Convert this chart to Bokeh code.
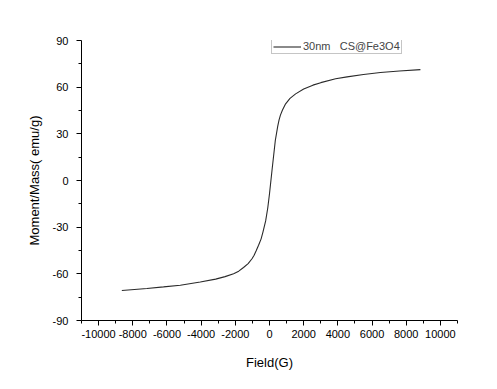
from bokeh.plotting import figure
from bokeh.models import Range1d, FixedTicker, Legend, LegendItem
from bokeh.embed import file_html
from bokeh.resources import INLINE

# Magnetization curve
field = [-8640, -7170, -6200, -5220, -4050, -3150, -2600, -2100, -1800, -1520,
         -1250, -1025, -900, -780, -640, -490, -380, -225, -100, 0, 146, 340,
         480, 560, 640, 760, 943, 1200, 1528, 2000, 2540, 3000, 3870, 4540, 5500,
         6490, 7600, 8830]
moment = [-70.7, -69.4, -68.4, -67.3, -65.3, -63.4, -61.8, -59.9, -58.3, -55.9,
          -53.4, -50.3, -48.0, -45.2, -41.6, -37.5, -33.0, -26.0, -17.5, -8.5, 6.4, 25.7,
          34.8, 39.0, 42.0, 45.3, 49.3, 52.8, 55.7, 58.8, 61.3, 62.9, 65.4, 66.6, 68.1,
          69.4, 70.4, 71.3]

x_ticks = [-10000, -8000, -6000, -4000, -2000, 0, 2000, 4000, 6000, 8000, 10000]
x_minor = [-11000, -9000, -7000, -5000, -3000, -1000, 1000, 3000, 5000, 7000, 9000, 11000]
y_ticks = [-90, -60, -30, 0, 30, 60, 90]
y_minor = [-75, -45, -15, 15, 45, 75]
series_label = "30nm\u00a0\u00a0\u00a0CS@Fe3O4"

FONT = "Liberation Sans"

p = figure(width=490, height=380, output_backend="svg", toolbar_location=None,
           x_range=Range1d(-11000, 11000), y_range=Range1d(-90, 90),
           min_border_left=81, min_border_right=33, min_border_top=40, min_border_bottom=60)
p.outline_line_color = None
p.xgrid.visible = False
p.ygrid.visible = False
p.background_fill_color = "white"
p.border_fill_color = "white"

r = p.line(field, moment, line_color="#2a2a2a", line_width=1.1)

for ax, ticks, minor in ((p.xaxis[0], x_ticks, x_minor), (p.yaxis[0], y_ticks, y_minor)):
    ax.ticker = FixedTicker(ticks=ticks, minor_ticks=minor)
    ax.major_label_overrides = {t: str(t) for t in ticks}
    ax.major_tick_in = 0
    ax.major_tick_out = 5
    ax.minor_tick_in = 0
    ax.minor_tick_out = 3
    ax.axis_line_color = "black"
    ax.major_tick_line_color = "black"
    ax.minor_tick_line_color = "black"
    ax.major_label_text_font = FONT
    ax.major_label_text_font_size = "11px"
    ax.major_label_text_color = "black"
    ax.axis_label_text_font = FONT
    ax.axis_label_text_font_size = "13px"
    ax.axis_label_text_font_style = "normal"
    ax.axis_label_text_color = "black"

p.xaxis.major_label_standoff = 4
p.yaxis.major_label_standoff = 8
p.xaxis.axis_label = "Field(G)"
p.yaxis.axis_label = "Moment/Mass( emu/g)"
p.xaxis.axis_label_standoff = 14
p.yaxis.axis_label_standoff = 8

legend = Legend(items=[LegendItem(label=series_label, renderers=[r])],
                location=(190, 266), orientation="vertical")
legend.label_text_font = FONT
legend.label_text_font_size = "11px"
legend.label_height = 9
legend.glyph_height = 9
legend.glyph_width = 28
legend.label_standoff = 2
legend.padding = 1
legend.margin = 0
legend.spacing = 0
legend.border_line_color = "#8c8c8c"
legend.border_line_width = 1
legend.background_fill_alpha = 1
p.add_layout(legend, "center")

open("out.html", "w").write(file_html(p, INLINE))
